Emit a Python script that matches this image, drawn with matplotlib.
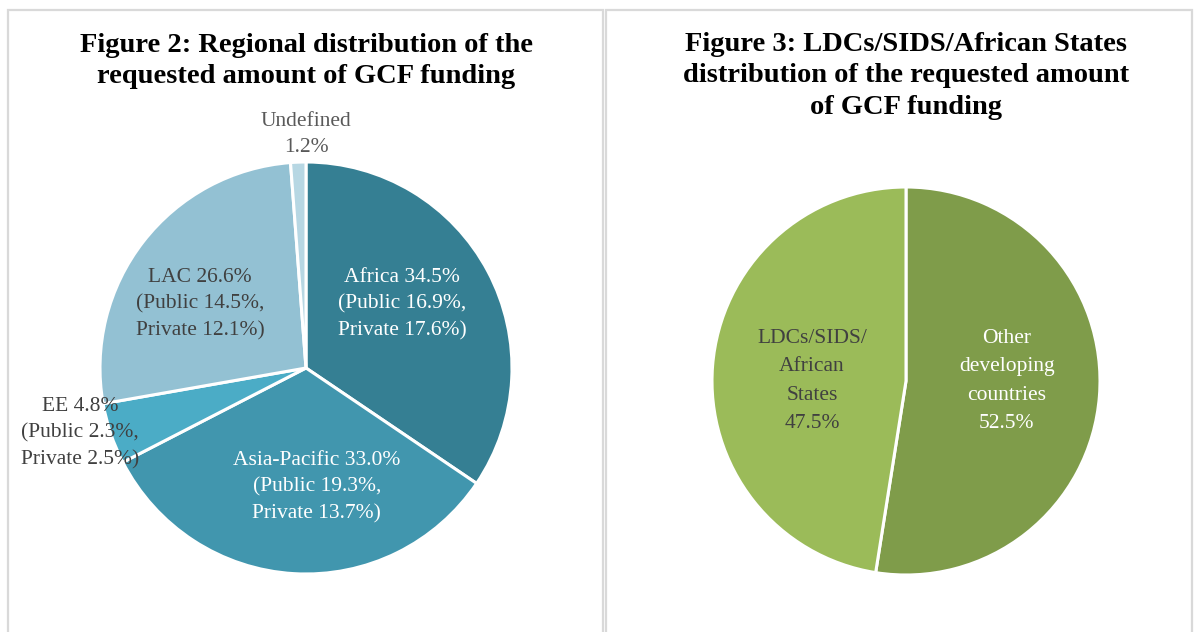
import matplotlib.pyplot as plt
from matplotlib.patches import Rectangle

# Figure 2 data
regions = ['Africa', 'Asia-Pacific', 'EE', 'LAC', 'Undefined']
region_share = [34.5, 33.0, 4.8, 26.6, 1.2]
region_labels = ['Africa 34.5%\n(Public 16.9%,\nPrivate 17.6%)',
                 'Asia-Pacific 33.0%\n(Public 19.3%,\nPrivate 13.7%)',
                 'EE 4.8%\n(Public 2.3%,\nPrivate 2.5%)',
                 'LAC 26.6%\n(Public 14.5%,\nPrivate 12.1%)',
                 'Undefined\n1.2%']
region_colors = ['#357F93', '#4196AE', '#4BACC6', '#93C1D3', '#B7D7E3']

# Figure 3 data
groups = ['Other developing countries', 'LDCs/SIDS/African States']
group_share = [52.5, 47.5]
group_labels = ['Other\ndeveloping\ncountries\n52.5%', 'LDCs/SIDS/\nAfrican\nStates\n47.5%']
group_colors = ['#7F9C4A', '#9BBB59']

plt.rcParams['font.family'] = ['Liberation Serif', 'DejaVu Serif']

W, H = 1195, 632
fig = plt.figure(figsize=(W / 100, H / 100), dpi=100)

# panel frames
for x0, x1 in [(8, 603), (606, 1192)]:
    fig.patches.append(Rectangle((x0 / W, -0.1), (x1 - x0) / W, (H - 10) / H + 0.1,
                                 transform=fig.transFigure, fill=False,
                                 edgecolor='#D9D9D9', linewidth=1.6))


def pie_axes(cx, cy, r):
    pad = 1.25
    return fig.add_axes([(cx - r * pad) / W, 1 - (cy + r * pad) / H,
                         2 * r * pad / W, 2 * r * pad / H])


# left pie
ax1 = pie_axes(306, 368, 206)
ax1.pie(region_share, colors=region_colors, startangle=90, counterclock=False,
        wedgeprops=dict(edgecolor='white', linewidth=2.2))
ax1.set_xlim(-1.25, 1.25)
ax1.set_ylim(-1.25, 1.25)
ax1.set_aspect('equal')
ax1.axis('off')
pos1 = [(0.466, 0.31), (0.053, -0.58), (-1.097, -0.316), (-0.515, 0.31), (0.0, 1.135)]
col1 = ['white', 'white', '#404040', '#404040', '#595959']
for lab, (x, y), c in zip(region_labels, pos1, col1):
    ax1.text(x, y, lab, ha='center', va='center', fontsize=15.5, color=c,
             linespacing=1.52)

fig.text(306 / W, 1 - 61 / H, 'Figure 2: Regional distribution of the\nrequested amount of GCF funding',
         ha='center', va='center', fontsize=20.5, fontweight='bold', linespacing=1.35)

# right pie
ax2 = pie_axes(906, 381, 194)
ax2.pie(group_share, colors=group_colors, startangle=90, counterclock=False,
        wedgeprops=dict(edgecolor='white', linewidth=2.2))
ax2.set_xlim(-1.25, 1.25)
ax2.set_ylim(-1.25, 1.25)
ax2.set_aspect('equal')
ax2.axis('off')
pos2 = [(0.52, 0.0), (-0.485, 0.0)]
col2 = ['white', '#404040']
for lab, (x, y), c in zip(group_labels, pos2, col2):
    ax2.text(x, y, lab, ha='center', va='center', fontsize=15.5, color=c,
             linespacing=1.65)

fig.text(906 / W, 1 - 76 / H,
         'Figure 3: LDCs/SIDS/African States\ndistribution of the requested amount\nof GCF funding',
         ha='center', va='center', fontsize=20.5, fontweight='bold', linespacing=1.35)

fig.savefig('out.png', dpi=100)
